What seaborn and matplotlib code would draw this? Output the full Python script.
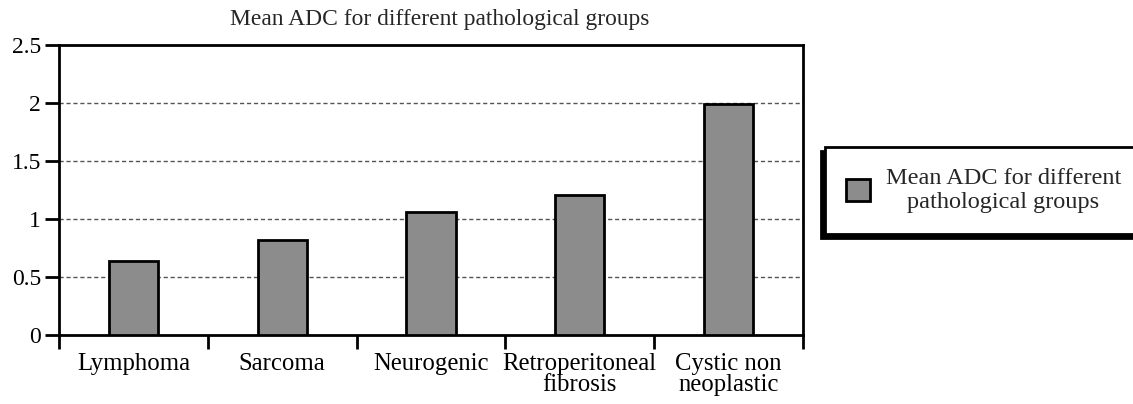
import matplotlib
matplotlib.use("Agg")
import matplotlib.pyplot as plt
import seaborn as sns
import pandas as pd
import numpy as np

categories = ["Lymphoma", "Sarcoma", "Neurogenic", "Retroperitoneal\nfibrosis", "Cystic non\nneoplastic"]
mean_adc = [0.64, 0.82, 1.06, 1.21, 1.99]
series_name = "Mean ADC for different\npathological groups"
title = "Mean ADC for different pathological groups"
yticks = [0, 0.5, 1, 1.5, 2, 2.5]

sns.set_theme(style="white")
plt.rcParams['font.family'] = ['Liberation Serif', 'DejaVu Serif']

df = pd.DataFrame({"cat": categories, "val": mean_adc})

fig = plt.figure(figsize=(11.33, 4.04), dpi=100)
ax = fig.add_axes([59/1133, 69/404, (803-59)/1133, (335-45)/404])

sns.barplot(data=df, x="cat", y="val", color="#8c8c8c", saturation=1,
            edgecolor="black", linewidth=2, width=0.33, ax=ax, label=series_name, zorder=3)

ax.set_ylim(0, 2.5)
ax.set_xlim(-0.5, len(categories) - 0.5)
ax.set_yticks(yticks)
ax.set_yticklabels([f"{t:g}" for t in yticks], fontsize=17)
ax.set_xticks(range(len(categories)))
ax.set_xticklabels(categories, fontsize=17.8, linespacing=0.95)
ax.set_xticks(np.arange(-0.5, len(categories)), minor=True)
ax.tick_params(axis='x', which='major', length=0, pad=13, colors='black')
ax.tick_params(axis='x', which='minor', length=10, width=2, direction='out', bottom=True, color='black')
ax.tick_params(axis='y', which='major', length=10, width=2, direction='out', left=True, pad=3, colors='black')
ax.set_xlabel("")
ax.set_ylabel("")
for g in yticks[1:-1]:
    ax.axhline(g, color="#555555", linestyle=(0, (3, 2)), linewidth=1, zorder=1)
for s in ax.spines.values():
    s.set_color("black")
    s.set_linewidth(2)

fig.text(440/1133, 1 - 20/404, title, ha="center", va="center", fontsize=16.9)

leg = ax.legend(loc="upper left", bbox_to_anchor=(825/1133, 1 - 147/404), bbox_transform=fig.transFigure,
                fontsize=17.5, frameon=True, fancybox=False, edgecolor="black",
                shadow={'ox': -3, 'oy': -3, 'color': 'black', 'alpha': 1},
                handlelength=1.0, handleheight=1.0, borderpad=0.85, handletextpad=0.65,
                borderaxespad=0)
leg.get_frame().set_linewidth(2)
for t in leg.get_texts():
    t.set_multialignment('center')
    t.set_linespacing(1.2)

fig.savefig("out.png", dpi=100, facecolor="white")
